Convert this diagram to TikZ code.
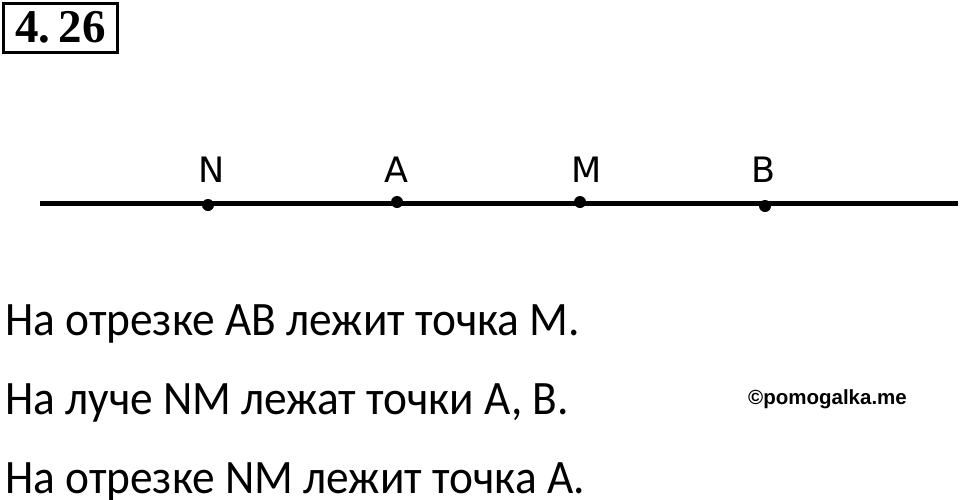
\documentclass[tikz,border=0pt]{standalone}
\usepackage{fontspec}
\setmainfont{Carlito}[FakeStretch=0.945]
\newfontfamily\labelfont{DejaVu Sans}
\newfontfamily\markfont{Liberation Sans}
\newfontfamily\numfont{Liberation Serif}
\tikzset{
  pt/.style={circle,fill=black,inner sep=0pt,minimum size=12pt},
  lbl/.style={anchor=base,font=\labelfont\fontsize{35}{35}\selectfont},
  txt/.style={anchor=base west,inner sep=0pt,font=\fontsize{48}{48}\selectfont}
}
\begin{document}
\begin{tikzpicture}[x=1pt,y=-1pt]
\useasboundingbox (0,0) rectangle (960,499);
%\draw[very thin,color=gray,step=50] (0,0) grid (960,499);
\node[draw,line width=3pt,minimum width=114pt,minimum height=49pt,inner sep=0pt,
  font=\numfont\bfseries\fontsize{47}{47}\selectfont] (num) at (60.5,27.5) {4.\,26};
\coordinate (lineL) at (40,203);
\coordinate (lineR) at (958,203);
\draw[line width=5pt] (lineL) -- (lineR);
\node[pt] (N) at (208,205) {};
\node[pt] (A) at (397,202) {};
\node[pt] (M) at (580,202) {};
\node[pt] (B) at (765,206) {};
\node[lbl] (labN) at (212,182) {N};
\node[lbl] (labA) at (396,182) {A};
\node[lbl] (labM) at (587,182) {M};
\node[lbl] (labB) at (763,182) {B};
\node[txt] (t1) at (5,335) {На отрезке AB лежит точка M.};
\node[txt] (t2) at (5,414) {На луче NM лежат точки A, B.};
\node[txt] (t3) at (5,493) {На отрезке NM лежит точка A.};
\node[anchor=base west,inner sep=0pt,font=\markfont\bfseries\fontsize{20.5}{20.5}\selectfont]
  (site) at (748,404) {©pomogalka.me};
\end{tikzpicture}
\end{document}
